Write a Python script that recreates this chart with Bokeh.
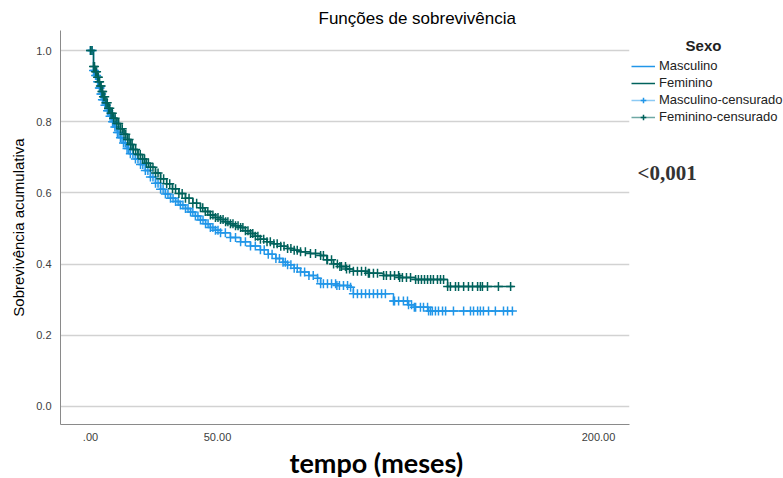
import numpy as np
from bokeh.plotting import figure
from bokeh.layouts import row
from bokeh.models import Range1d, FixedTicker, Label, Legend, LegendItem, Title
from bokeh.embed import file_html
from bokeh.resources import INLINE

# ---------------- data ----------------
# Kaplan-Meier step points: time (months) and cumulative survival
fem_t = [0, 1.2, 2.0, 2.8, 3.4, 3.9, 4.5, 5.1, 6.1, 7.1, 8.1, 9.1, 10.4, 11.8, 13.2, 14.6,
         15.8, 16.9, 18.7, 20.5, 22.0, 23.6, 25.6, 27.6, 30.0, 32.3, 34.8, 37.4, 40.3, 43.3,
         45.2, 47.2, 49.2, 51.2, 53.2, 55.1, 57.1, 59.1, 61.0, 63.0, 64.9, 66.9, 69.5, 72.2,
         74.9, 77.6, 80.2, 82.7, 86.6, 90.6, 93.1, 95.7, 98.2, 100.8, 103.5, 109.4, 115.4,
         121.7, 128.0, 140.6]
fem_s = [1.000, 0.955, 0.940, 0.925, 0.912, 0.900, 0.885, 0.870, 0.853, 0.838, 0.824, 0.810,
         0.795, 0.780, 0.765, 0.750, 0.736, 0.722, 0.708, 0.695, 0.683, 0.672, 0.656, 0.640,
         0.626, 0.612, 0.598, 0.585, 0.571, 0.558, 0.548, 0.538, 0.531, 0.525, 0.519, 0.513,
         0.508, 0.503, 0.494, 0.486, 0.478, 0.470, 0.463, 0.457, 0.450, 0.444, 0.439, 0.435,
         0.430, 0.424, 0.412, 0.400, 0.393, 0.386, 0.380, 0.374, 0.368, 0.362, 0.357, 0.337]
fem_end = 166.5

masc_t = [0, 1.2, 2.0, 2.8, 3.5, 4.1, 4.7, 5.7, 6.7, 7.7, 8.7, 9.6, 10.6, 11.8, 13.0, 14.4,
          15.7, 17.7, 19.7, 21.6, 23.6, 25.6, 27.6, 29.5, 31.5, 33.5, 35.4, 37.4, 39.4, 41.3,
          43.3, 45.3, 47.2, 49.2, 51.2, 55.1, 59.1, 63.0, 66.9, 70.0, 73.0, 75.8, 77.6, 80.2,
          82.7, 86.0, 89.4, 90.6, 97.0, 102.4, 103.5, 119.3, 125.2, 127.5, 133.1]
masc_s = [1.000, 0.944, 0.930, 0.912, 0.895, 0.878, 0.862, 0.846, 0.831, 0.815, 0.800, 0.785,
          0.770, 0.755, 0.740, 0.725, 0.710, 0.695, 0.680, 0.663, 0.645, 0.627, 0.610, 0.597,
          0.585, 0.576, 0.566, 0.556, 0.546, 0.535, 0.524, 0.513, 0.503, 0.495, 0.488, 0.475,
          0.463, 0.451, 0.440, 0.428, 0.416, 0.405, 0.398, 0.388, 0.378, 0.368, 0.360, 0.345,
          0.340, 0.335, 0.317, 0.296, 0.286, 0.279, 0.268]
masc_end = 166.5

# censored observations (months) in addition to those at the step times
fem_cens_extra = [0.6, 1.6, 2.4, 3.1, 3.6, 4.2, 4.8, 5.6, 6.6, 7.6, 8.6, 9.7, 11.1, 12.5, 13.9,
                  15.2, 16.4, 17.8, 19.6, 21.3, 22.8, 24.6, 26.6, 28.8, 31.2, 33.5, 36.1, 38.8,
                  41.8, 44.2, 46.2, 48.2, 50.2, 52.2, 54.1, 56.1, 58.1, 60.0, 62.0, 63.9, 65.9,
                  68.2, 70.8, 73.5, 76.2, 78.9, 81.4, 84.6, 88.6, 91.7, 93.3, 94.9, 97.2, 98.8,
                  100.4, 102.0, 105.1, 106.7, 108.3, 109.8, 111.4, 113.0, 116.5, 118.1, 119.7,
                  121.3, 122.8, 124.4, 126.0, 129.1, 130.3, 131.5, 132.7, 133.9, 135.0, 136.6,
                  137.8, 139.0, 141.7, 143.7, 144.9, 146.9, 148.8, 150.4, 152.4, 153.5, 154.3,
                  156.3, 160.6, 165.4]
masc_cens_extra = [0.6, 1.6, 2.4, 3.2, 3.8, 4.4, 5.2, 6.2, 7.2, 8.2, 9.2, 10.1, 11.2, 12.4,
                   13.7, 15.0, 16.7, 18.7, 20.6, 22.6, 24.6, 26.6, 28.6, 30.5, 32.5, 34.5, 36.4,
                   38.4, 40.3, 42.3, 44.3, 46.3, 48.2, 50.2, 53.1, 57.1, 61.0, 64.9, 68.4, 71.5,
                   74.4, 76.7, 78.9, 81.4, 84.3, 87.7, 91.7, 93.3, 94.9, 96.5, 98.0, 99.6, 101.2,
                   105.1, 106.7, 108.3, 109.8, 111.4, 113.0, 114.6, 116.1, 119.7, 121.3, 123.2,
                   124.8, 126.4, 128.0, 129.9, 131.1, 132.7, 133.9, 134.6, 135.8, 137.0, 138.6,
                   139.8, 142.9, 146.9, 149.6, 150.8, 152.4, 153.5, 154.7, 156.7, 159.4, 162.6,
                   164.2, 166.1]

x_ticks = [0, 50, 200]
x_tick_labels = [".00", "50.00", "200.00"]
y_ticks = [0.0, 0.2, 0.4, 0.6, 0.8, 1.0]
y_tick_labels = ["0.0", "0.2", "0.4", "0.6", "0.8", "1.0"]
series_names = ["Masculino", "Feminino", "Masculino-censurado", "Feminino-censurado"]
legend_title = "Sexo"
p_value_text = "<0,001"

BLUE = "#2196e8"
BLUE_LIGHT = "#8ccaf4"
TEAL = "#00625c"
TEAL_LIGHT = "#6fa8a4"
FONT = "Liberation Sans"


def step_xy(t, s, end):
    return list(t) + [end], list(s) + [s[-1]]


def cens_xy(t, s, extra):
    ct = np.sort(np.array(list(t) + list(extra), dtype=float))
    idx = np.searchsorted(np.array(t), ct, side="right") - 1
    return ct, np.array(s)[idx]


mx, my = step_xy(masc_t, masc_s, masc_end)
fx, fy = step_xy(fem_t, fem_s, fem_end)
cmx, cmy = cens_xy(masc_t, masc_s, masc_cens_extra)
cfx, cfy = cens_xy(fem_t, fem_s, fem_cens_extra)

# ---------------- main plot ----------------
p = figure(width=630, height=478, output_backend="svg", toolbar_location=None,
           x_range=Range1d(-11.8, 212.2), y_range=Range1d(-0.0506, 1.0562),
           min_border_left=60, min_border_right=1, min_border_top=30, min_border_bottom=54)
p.outline_line_color = None
p.background_fill_color = "white"
p.border_fill_color = "white"

p.xgrid.visible = False
p.ygrid.grid_line_color = "#d2d2d2"
p.ygrid.grid_line_width = 1.5
p.ygrid.ticker = FixedTicker(ticks=y_ticks)

for ax in (p.xaxis[0], p.yaxis[0]):
    ax.axis_line_color = "#8a8a8a"
    ax.axis_line_width = 1
    ax.major_tick_line_color = None
    ax.minor_tick_line_color = None
    ax.major_tick_in = 0
    ax.major_tick_out = 0
    ax.major_label_text_font = FONT
    ax.major_label_text_font_size = "11px"
    ax.major_label_text_color = "#404040"

p.xaxis.ticker = FixedTicker(ticks=x_ticks)
p.xaxis.major_label_overrides = dict(zip(x_ticks, x_tick_labels))
p.xaxis.major_label_standoff = 8
p.yaxis.ticker = FixedTicker(ticks=y_ticks)
p.yaxis.major_label_overrides = dict(zip(y_ticks, y_tick_labels))
p.yaxis.major_label_standoff = 9
p.yaxis.axis_label = "Sobrevivência acumulativa"
p.yaxis.axis_label_text_font = FONT
p.yaxis.axis_label_text_font_style = "normal"
p.yaxis.axis_label_text_font_size = "15px"
p.yaxis.axis_label_text_color = "black"
p.yaxis.axis_label_standoff = 6

p.add_layout(Title(text="Funções de sobrevivência", align="left", offset=258, standoff=6,
                   text_font=FONT, text_font_size="17px", text_font_style="normal",
                   text_color="black"), "above")
p.add_layout(Title(text="tempo (meses)", align="left", offset=229, standoff=0,
                   text_font="Lato", text_font_size="27px", text_font_style="bold",
                   text_color="black"), "below")

p.step(mx, my, mode="after", line_color=BLUE, line_width=1.5)
p.step(fx, fy, mode="after", line_color=TEAL, line_width=1.5)
p.scatter(cmx, cmy, marker="cross", size=9, line_color=BLUE, line_width=1.5)
p.scatter(cfx, cfy, marker="cross", size=9, line_color=TEAL, line_width=1.5)

# ---------------- legend panel (its frame is aligned with the main frame: y 30..424) ----
# the legend renderers hold the same series, but this panel's view window shows no data
q = figure(width=153, height=478, output_backend="svg", toolbar_location=None,
           x_range=Range1d(-400, -300), y_range=Range1d(-400, -300), min_border=0)
q.axis.visible = False
q.grid.visible = False
q.outline_line_color = None
q.background_fill_color = "white"
q.border_fill_color = "white"

lm = q.step(mx, my, mode="after", line_color=BLUE, line_width=1.5)
lf = q.step(fx, fy, mode="after", line_color=TEAL, line_width=1.5)
lmc_line = q.step(mx, my, mode="after", line_color=BLUE_LIGHT, line_width=1.5)
lfc_line = q.step(fx, fy, mode="after", line_color=TEAL_LIGHT, line_width=1.5)
lmc = q.scatter(cmx, cmy, marker="cross", size=9, line_color=BLUE, line_width=1.5)
lfc = q.scatter(cfx, cfy, marker="cross", size=9, line_color=TEAL, line_width=1.5)

legend = Legend(items=[LegendItem(label=series_names[0], renderers=[lm]),
                       LegendItem(label=series_names[1], renderers=[lf]),
                       LegendItem(label=series_names[2], renderers=[lmc_line, lmc]),
                       LegendItem(label=series_names[3], renderers=[lfc_line, lfc])],
                location=(1, 300), orientation="vertical",
                label_text_font=FONT, label_text_font_size="13px", label_text_color="#222222",
                label_height=14, glyph_height=14, glyph_width=24, label_standoff=4,
                spacing=2, padding=0, margin=0, border_line_color=None,
                background_fill_alpha=0)
q.add_layout(legend, "center")
q.add_layout(Label(x=73, y=379, x_units="screen", y_units="screen", text=legend_title,
                   text_align="center", text_baseline="middle", text_font=FONT,
                   text_font_size="15px", text_font_style="bold", text_color="#222222"))
q.add_layout(Label(x=7, y=252, x_units="screen", y_units="screen", text=p_value_text,
                   text_align="left", text_baseline="middle", text_font="Liberation Serif",
                   text_font_size="21px", text_font_style="bold", text_color="#333333"))

open("out.html", "w").write(file_html(row(p, q), INLINE))
